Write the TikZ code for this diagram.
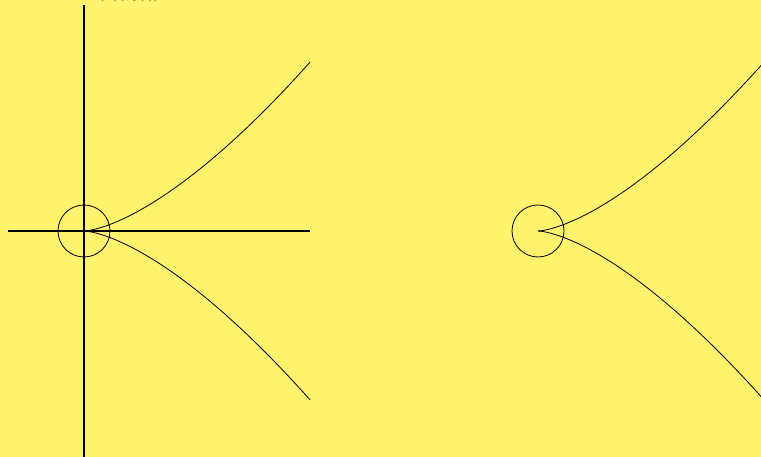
\documentclass[tikz,border=0pt]{standalone}
\definecolor{fondjaune}{RGB}{255,243,110}
\begin{document}
\begin{tikzpicture}[x=1pt, y=1pt]

\def\c{0.0497}
\def\xmax{226}

\clip (0,0) rectangle (761,457);
\fill[fondjaune] (0,0) rectangle (761,457);

% gauche : axes, cercle et cusp
\begin{scope}[shift={(84,226)}]
\draw[line width=1.5pt] (-76,0) -- (226,0);
\draw[line width=1.5pt] (0,-230) -- (0,226);
\draw[line width=0.8pt] (0,0) circle (26);
\draw[line width=0.8pt, smooth, domain=0:\xmax, samples=200]
  plot (\x, {\c*\x^1.5});
\draw[line width=0.8pt, smooth, domain=0:\xmax, samples=200]
  plot (\x, {-\c*\x^1.5});
\node[anchor=base, scale=1.3] (lbl) at (45,232) {$(x(t),y(t))$};
\end{scope}

% droite : seulement le cusp
\begin{scope}[shift={(538,226)}]
\draw[line width=0.8pt] (0,0) circle (26);
\draw[line width=0.8pt, smooth, domain=0:\xmax, samples=200]
  plot (\x, {\c*\x^1.5});
\draw[line width=0.8pt, smooth, domain=0:\xmax, samples=200]
  plot (\x, {-\c*\x^1.5});
\end{scope}

\end{tikzpicture}
\end{document}
